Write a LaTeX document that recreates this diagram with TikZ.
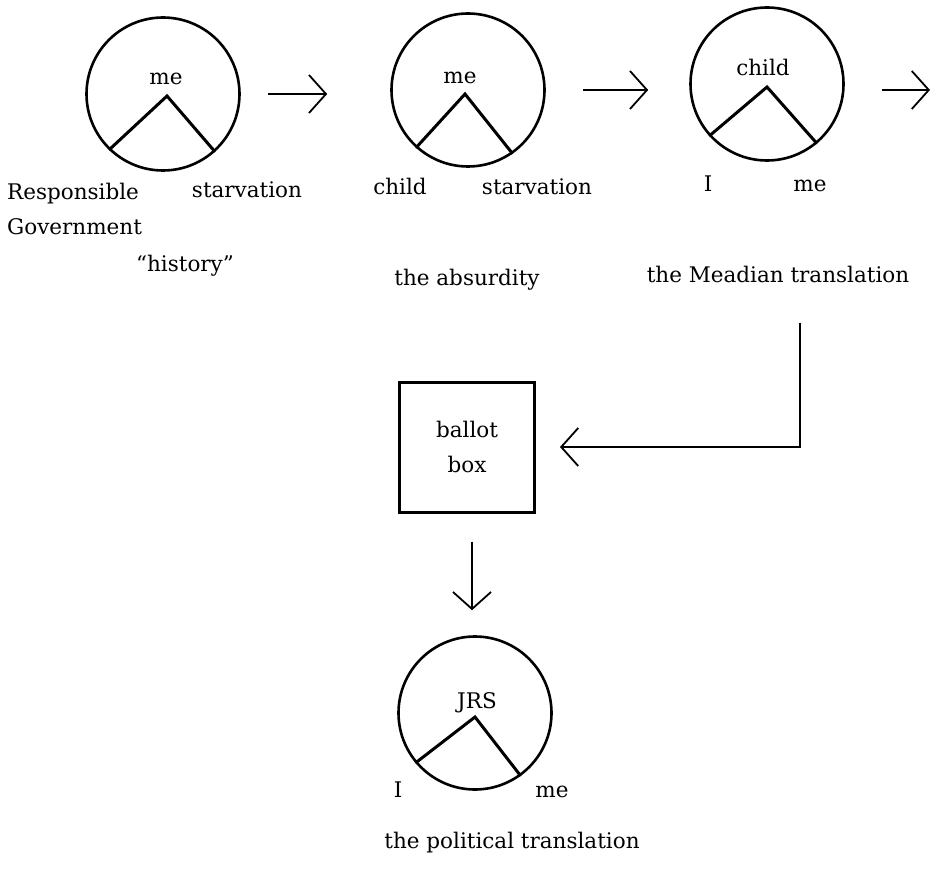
\documentclass[tikz,border=0pt]{standalone}
\usepackage{fontspec}
\setmainfont{DejaVu Serif}
\usetikzlibrary{arrows.meta,positioning}
\tikzset{
    self-circle/.style = {draw, circle, line width=2.6pt, minimum size=153pt, inner sep=0pt},
    self-wedge/.style = {line width=3pt, line join=miter},
    label-text/.style = {font=\fontsize{21.5}{35}\selectfont, inner sep=0pt},
    flow-arrow/.style = {line width=1.8pt, -{Straight Barb[length=17pt, width=38pt]}},
    ballot-box/.style = {draw, rectangle, line width=3pt, minimum width=135pt, minimum height=130pt, align=center},
}
\begin{document}
\begin{tikzpicture}[x=1pt, y=1pt]
\useasboundingbox (0,0) rectangle (942,-869);
% the selves
\node[self-circle] (history) at (163,-94) {};
\node[self-circle] (absurd) at (468,-90) {};
\node[self-circle] (meadian) at (767,-84) {};
\node[self-circle] (political) at (475,-713) {};
\node[ballot-box, label-text] (ballot) at (467,-447) {ballot\\box};
% wedges inside the circles
\draw[self-wedge] (history.226) -- ([shift={(4pt,-2pt)}]history.center) -- (history.312);
\draw[self-wedge] (absurd.228) -- ([shift={(-3pt,-4pt)}]absurd.center) -- (absurd.305);
\draw[self-wedge] (meadian.222) -- ([shift={(0pt,-3pt)}]meadian.center) -- (meadian.310);
\draw[self-wedge] (political.220) -- ([shift={(0pt,-4pt)}]political.center) -- (political.306);
% labels
\node[label-text, anchor=base] (history-top) at (166,-85) {me};
\node[label-text, anchor=west, align=left] (history-left) at (7,-209) {Responsible\\Government};
\node[label-text, anchor=base] (history-right) at (247,-197) {starvation};
\node[label-text, anchor=base] (history-name) at (185,-271) {“history”};
\node[label-text, anchor=base] (absurd-top) at (460,-84) {me};
\node[label-text, anchor=base] (absurd-left) at (400,-195) {child};
\node[label-text, anchor=base] (absurd-right) at (537,-195) {starvation};
\node[label-text, anchor=base] (absurd-name) at (467,-285) {the absurdity};
\node[label-text, anchor=base] (meadian-top) at (763,-76) {child};
\node[label-text, anchor=base] (meadian-left) at (708,-192) {I};
\node[label-text, anchor=base] (meadian-right) at (810,-192) {me};
\node[label-text, anchor=base] (meadian-name) at (778,-282) {the Meadian translation};
\node[label-text, anchor=base] (political-top) at (477,-708) {JRS};
\node[label-text, anchor=base] (political-left) at (398,-797) {I};
\node[label-text, anchor=base] (political-right) at (552,-797) {me};
\node[label-text, anchor=base] (political-name) at (512,-848) {the political translation};
% arrows
\coordinate (onward) at (930,-90);
\draw[flow-arrow, shorten <=27pt, shorten >=63pt] (history.east) -- (history.east -| absurd.west);
\draw[flow-arrow, shorten <=37pt, shorten >=41pt] (absurd.east) -- (absurd.east -| meadian.west);
\draw[flow-arrow, shorten <=37pt] (meadian.east |- onward) -- (onward);
\draw[flow-arrow, shorten <=40pt, shorten >=24pt] ([xshift=22pt]meadian-name.south) |- (ballot.east);
\draw[flow-arrow, shorten <=28pt, shorten >=25pt] ([xshift=5pt]ballot.south) -- ([xshift=5pt]ballot.south |- political.north);
\end{tikzpicture}
\end{document}
